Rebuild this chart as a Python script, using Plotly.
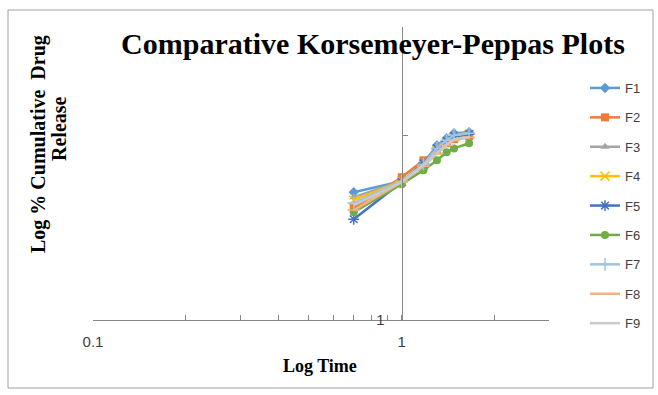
import math
import plotly.graph_objects as go

# Log time (log10 of minutes: 5,10,15,20,25,30,45)
log_time = [0.699, 1.0, 1.176, 1.301, 1.398, 1.477, 1.653]

series_names = ["F1", "F2", "F3", "F4", "F5", "F6", "F7", "F8", "F9"]
F1 = [1.615, 1.683, 1.800, 1.925, 1.977, 2.014, 2.022]
F2 = [1.521, 1.708, 1.820, 1.889, 1.940, 1.970, 1.992]
F3 = [1.585, 1.683, 1.794, 1.918, 1.970, 2.007, 2.014]
F4 = [1.567, 1.683, 1.787, 1.889, 1.948, 1.985, 2.007]
F5 = [1.459, 1.677, 1.800, 1.903, 1.955, 1.992, 2.007]
F6 = [1.498, 1.664, 1.754, 1.820, 1.875, 1.903, 1.940]
F7 = [1.550, 1.683, 1.794, 1.903, 1.962, 2.000, 2.014]
F8 = [1.510, 1.677, 1.780, 1.868, 1.925, 1.962, 1.985]
F9 = [1.538, 1.677, 1.787, 1.875, 1.933, 1.970, 1.985]
values = [F1, F2, F3, F4, F5, F6, F7, F8, F9]

colors = ["#5B9BD5", "#ED7D31", "#A5A5A5", "#FFC000", "#4472C4", "#70AD47",
          "#9DC3E6", "#F4B183", "#C9C9C9"]
symbols = ["diamond", "square", "triangle-up", "x-thin", "asterisk", "circle",
           "cross-thin", "line-ew", "circle"]

x_ticks = [0.1, 0.2, 0.3, 0.4, 0.5, 0.6, 0.7, 0.8, 0.9, 1, 2, 3]
x_ticktext = ["0.1", "", "", "", "", "", "", "", "", "1", "", ""]
y_ticks = [1, 2, 3]
y_ticktext = ["1", "", ""]

xmin, xmax = 0.1, 3
ymin, ymax = 1, 3

fig = go.Figure()
for i, (name, vals) in enumerate(zip(series_names, values)):
    sym = symbols[i]
    show_marker = name != "F9"
    thin = sym in ("x-thin", "asterisk", "cross-thin", "line-ew")
    fig.add_trace(go.Scatter(
        x=log_time, y=vals, name=name, legendgroup=name,
        mode="lines+markers" if show_marker else "lines",
        line=dict(color=colors[i], width=2.5),
        marker=dict(symbol=sym, size=8 if not thin else 9, color=colors[i],
                    line=dict(color=colors[i], width=1.5 if thin else 0)),
    ))

L, R, T, B = 93, 658 - 549, 27, 395 - 320
plot_w = 658 - L - R
plot_h = 395 - T - B
ypos = (math.log10(1) - math.log10(xmin)) / (math.log10(xmax) - math.log10(xmin))

axis_col = "#868686"
fig.update_layout(
    width=658, height=395,
    margin=dict(l=L, r=R, t=T, b=B),
    paper_bgcolor="white", plot_bgcolor="white",
    title=dict(text="<b>Comparative Korsemeyer-Peppas Plots</b>",
               font=dict(family="Liberation Serif", size=30, color="black"),
               x=(373 - L) / plot_w, xref="paper", xanchor="center",
               y=1 - 43 / 395, yanchor="middle"),
    xaxis=dict(type="log", range=[math.log10(xmin), math.log10(xmax)],
               showgrid=False, zeroline=False, showline=True, linecolor=axis_col,
               linewidth=1, tickvals=x_ticks, ticktext=x_ticktext,
               ticks="inside", ticklen=5, tickcolor=axis_col,
               tickfont=dict(family="Liberation Sans", size=15, color="#404040"),
               anchor="y", ticklabelstandoff=8),
    yaxis=dict(type="log", range=[math.log10(ymin), math.log10(ymax)],
               showgrid=False, zeroline=False, showline=True, linecolor=axis_col,
               linewidth=1, tickvals=y_ticks, ticktext=y_ticktext,
               ticks="inside", ticklen=5, tickcolor=axis_col,
               tickfont=dict(family="Liberation Sans", size=15, color="#404040"),
               anchor="free", position=ypos, ticklabelstandoff=14),
    legend=dict(x=(585 - L) / plot_w, xanchor="left", y=(320 - 73) / plot_h,
                yanchor="top", font=dict(family="Liberation Sans", size=13,
                                         color="#404040"),
                tracegroupgap=9.5, bgcolor="rgba(0,0,0,0)"),
    showlegend=True,
)

# x axis title
fig.add_annotation(text="<b>Log Time</b>", xref="paper", yref="paper",
                   x=(320 - L) / plot_w, y=(320 - 366) / plot_h,
                   xanchor="center", yanchor="middle",
                   showarrow=False, font=dict(family="Liberation Serif", size=18,
                                              color="black"))
# y axis title (two lines)
fig.add_annotation(text="<b>Log % Cumulative  Drug</b>", xref="paper",
                   yref="paper", x=(38 - L) / plot_w, y=(320 - 144) / plot_h,
                   xanchor="center", yanchor="middle",
                   textangle=-90, showarrow=False,
                   font=dict(family="Liberation Serif", size=20, color="black"))
fig.add_annotation(text="<b>Release</b>", xref="paper",
                   yref="paper", x=(59 - L) / plot_w, y=(320 - 129) / plot_h,
                   xanchor="center", yanchor="middle",
                   textangle=-90, showarrow=False,
                   font=dict(family="Liberation Serif", size=20, color="black"))

# outer frame
fig.add_shape(type="rect", xref="paper", yref="paper",
              x0=(8 - L) / plot_w, x1=(653 - L) / plot_w,
              y0=(320 - 388) / plot_h, y1=(320 - 10) / plot_h,
              line=dict(color="#A0A0A0", width=1), layer="below")

fig.write_html("out.html")
